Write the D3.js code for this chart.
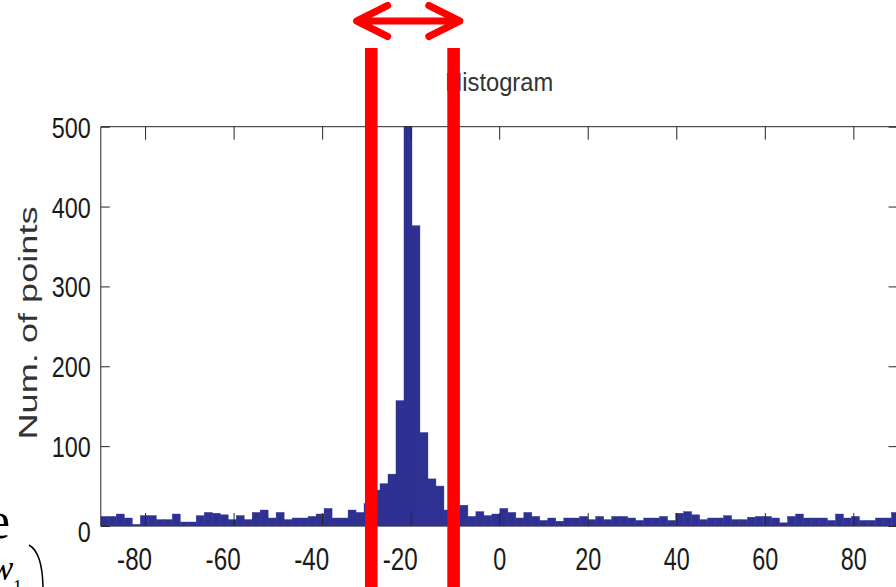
<!DOCTYPE html>
<html>
<head>
<meta charset="utf-8">
<script src="https://cdn.jsdelivr.net/npm/d3@7"></script>
<style>
  html, body { margin: 0; padding: 0; background: #fff; overflow: hidden; }
  svg { display: block; }
</style>
</head>
<body>
<svg id="chart" width="896" height="587"></svg>
<script>
// Histogram of angle values: 100 equal-width bins
const binStart = -90.1;
const binWidth = 1.805;
const counts = [
  12, 12, 15, 10, 2, 13, 13, 8, 8, 15,
  5, 5, 13, 17, 16, 14, 8, 13, 8, 17,
  20, 10, 17, 8, 10, 10, 12, 15, 22, 10,
  10, 20, 17, 28, 45, 53, 65, 157, 500, 376,
  117, 59, 50, 20, 22, 26, 12, 18, 13, 15,
  22, 17, 10, 17, 12, 7, 10, 6, 10, 10,
  12, 8, 12, 8, 12, 12, 10, 7, 10, 10,
  12, 7, 16, 18, 14, 8, 10, 10, 13, 8,
  8, 11, 12, 12, 10, 4, 12, 15, 10, 10,
  10, 7, 15, 10, 12, 7, 7, 10, 10, 17
];
const xTicks = [-80, -60, -40, -20, 0, 20, 40, 60, 80];
const yTicks = [0, 100, 200, 300, 400, 500];
const xDomain = [-90, 90];
const yDomain = [0, 500];

// highlighted window and the arrow spanning it
const windowBounds = [-28.9, -10.3];
const arrowSpan = [-32.2, -8.9];

const svg = d3.select("#chart");
const plot = { left: 100.8, right: 897.6, top: 126.7, bottom: 526 };

const x = d3.scaleLinear().domain(xDomain).range([plot.left, plot.right]);
const y = d3.scaleLinear().domain(yDomain).range([plot.bottom, plot.top]);

const bins = counts.map((n, i) => ({
  x0: binStart + i * binWidth,
  x1: binStart + (i + 1) * binWidth,
  n
}));

const axisColor = "#262626";
const labelColor = "#1a1a1a";
const sans = "'Liberation Sans', Arial, Helvetica, sans-serif";

// condensed numerals: fixed advance per digit, narrow minus sign
const digitW = 13, minusW = 9;
const labelWidth = s => s.replace("-", "").length * digitW + (s.startsWith("-") ? minusW : 0);
const fmt = d => d < 0 ? "-" + Math.abs(d) : String(d);

// bottom axis line sits under the bars
svg.append("line")
  .attr("x1", plot.left).attr("x2", plot.right)
  .attr("y1", plot.bottom).attr("y2", plot.bottom)
  .attr("stroke", axisColor);

svg.append("clipPath").attr("id", "plotClip")
  .append("rect")
  .attr("x", plot.left).attr("y", plot.top - 1)
  .attr("width", plot.right - plot.left)
  .attr("height", plot.bottom - plot.top + 2);

svg.append("g").attr("clip-path", "url(#plotClip)")
  .selectAll("rect").data(bins).join("rect")
  .attr("x", d => x(d.x0))
  .attr("width", d => x(d.x1) - x(d.x0))
  .attr("y", d => y(d.n))
  .attr("height", d => y(0) - y(d.n))
  .attr("fill", "#2e3192")
  .attr("stroke", "#2e3192")
  .attr("stroke-width", 0.4);

// frame and ticks on all four sides
const xTickLen = 13, yTickLen = 9;

const gBottom = svg.append("g").attr("transform", `translate(0,${plot.bottom})`)
  .call(d3.axisBottom(x).tickValues(xTicks).tickSize(-xTickLen).tickFormat(fmt));
gBottom.select(".domain").remove();
gBottom.selectAll(".tick line").attr("stroke", axisColor);
gBottom.selectAll(".tick text")
  .attr("font-family", sans).attr("font-size", 31).attr("fill", labelColor)
  .attr("y", 44).attr("dy", 0)
  .attr("x", d => d < 0 ? -11 : 0)
  .attr("textLength", d => labelWidth(fmt(d)))
  .attr("lengthAdjust", "spacingAndGlyphs");

const gTop = svg.append("g").attr("transform", `translate(0,${plot.top})`)
  .call(d3.axisTop(x).tickValues(xTicks).tickSize(-xTickLen).tickFormat(""));
gTop.select(".domain").attr("d", `M${plot.left},0H${plot.right}`).attr("stroke", axisColor);
gTop.selectAll(".tick line").attr("stroke", axisColor);

const gLeft = svg.append("g").attr("transform", `translate(${plot.left},0)`)
  .call(d3.axisLeft(y).tickValues(yTicks).tickSize(-yTickLen));
gLeft.select(".domain").attr("d", `M0,${plot.top}V${plot.bottom}`).attr("stroke", axisColor);
gLeft.selectAll(".tick line").attr("stroke", axisColor);
gLeft.selectAll(".tick text")
  .attr("font-family", sans).attr("font-size", 29).attr("fill", labelColor)
  .attr("x", -10)
  .attr("dy", d => d === 0 ? "0.52em" : "0.36em")
  .attr("textLength", d => labelWidth(String(d)))
  .attr("lengthAdjust", "spacingAndGlyphs");

const gRight = svg.append("g").attr("transform", `translate(${plot.right},0)`)
  .call(d3.axisRight(y).tickValues(yTicks).tickSize(-yTickLen).tickFormat(""));
gRight.select(".domain").attr("d", `M0,${plot.top}V${plot.bottom}`).attr("stroke", axisColor);
gRight.selectAll(".tick line").attr("stroke", axisColor);

// title
svg.append("text")
  .attr("x", (plot.left + plot.right) / 2).attr("y", 91)
  .attr("text-anchor", "middle")
  .attr("font-family", sans)
  .attr("font-size", 25).attr("fill", "#333")
  .attr("textLength", 108).attr("lengthAdjust", "spacingAndGlyphs")
  .text("Histogram");

// y axis label
svg.append("text")
  .attr("transform", `translate(37,323) rotate(-90)`)
  .attr("text-anchor", "middle")
  .attr("font-family", sans)
  .attr("font-size", 26).attr("fill", "#333")
  .attr("textLength", 233).attr("lengthAdjust", "spacingAndGlyphs")
  .text("Num. of points");

// fragments of the surrounding equation at the lower left
const serif = "'Liberation Serif', 'Times New Roman', serif";
svg.append("text").attr("x", -13).attr("y", 538)
  .attr("font-family", serif).attr("font-size", 52).attr("fill", "#000").text("e");
svg.append("text").attr("x", -10).attr("y", 580)
  .attr("font-family", serif).attr("font-style", "italic").attr("font-size", 35).attr("fill", "#000").text("w");
svg.append("text").attr("x", 13).attr("y", 593)
  .attr("font-family", serif).attr("font-size", 18).attr("fill", "#000").text("1");
svg.append("path")
  .attr("d", "M29,545 Q43,553 43,590")
  .attr("fill", "none").attr("stroke", "#000").attr("stroke-width", 1.5);

// red window markers
const red = "#ff0000";
svg.append("g").selectAll("rect").data(windowBounds).join("rect")
  .attr("x", d => x(d) - 6.3)
  .attr("width", 12.6)
  .attr("y", 48)
  .attr("height", 587 - 48)
  .attr("fill", red);

// double-headed arrow above the window
const ay = 21, headDx = 31, headDy = 15.5;
const ax0 = x(arrowSpan[0]), ax1 = x(arrowSpan[1]);
const arrowPath = d3.path();
arrowPath.moveTo(ax0, ay); arrowPath.lineTo(ax1, ay);
arrowPath.moveTo(ax0 + headDx, ay - headDy); arrowPath.lineTo(ax0, ay); arrowPath.lineTo(ax0 + headDx, ay + headDy);
arrowPath.moveTo(ax1 - headDx, ay - headDy); arrowPath.lineTo(ax1, ay); arrowPath.lineTo(ax1 - headDx, ay + headDy);
svg.append("path")
  .attr("d", arrowPath.toString())
  .attr("fill", "none").attr("stroke", red)
  .attr("stroke-width", 7).attr("stroke-linecap", "round").attr("stroke-linejoin", "round");
</script>
</body>
</html>
